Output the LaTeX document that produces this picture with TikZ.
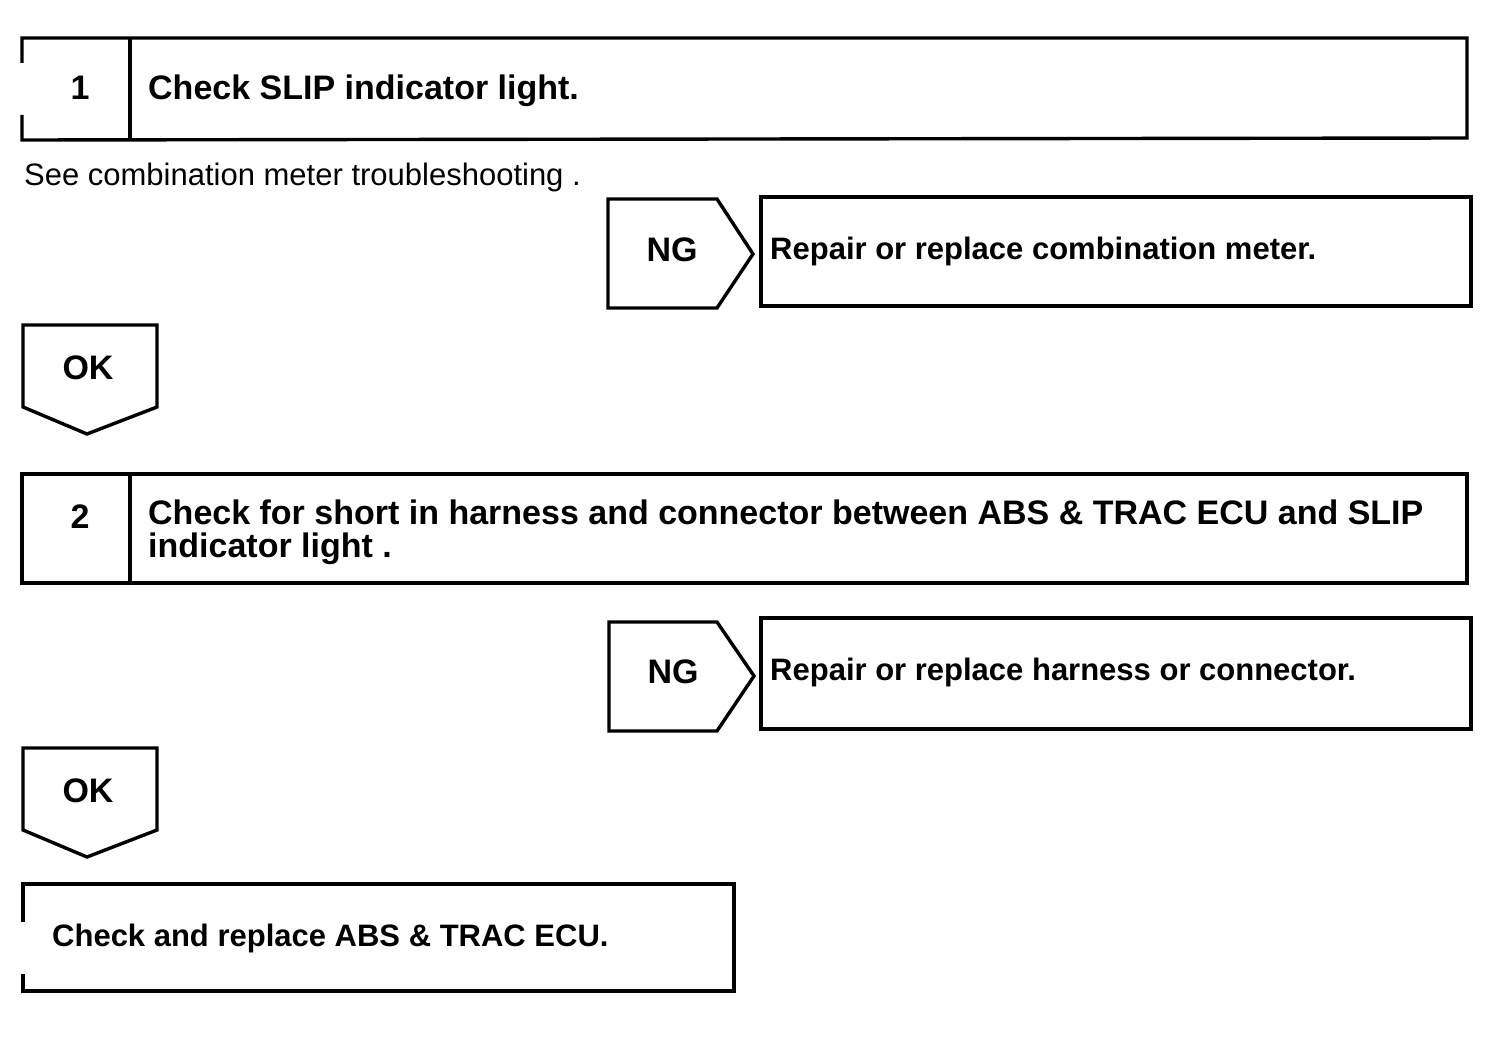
\documentclass[tikz,border=0pt]{standalone}
\usepackage{fontspec}
\setmainfont{Liberation Sans}
\begin{document}
\begin{tikzpicture}[x=1pt,y=-1pt,
  frame/.style={line width=3.4pt,line join=miter},
  bt/.style={font=\fontsize{34}{38}\selectfont\bfseries,inner sep=0pt},
  bs/.style={font=\fontsize{31}{36}\selectfont\bfseries,inner sep=0pt},
  rt/.style={font=\fontsize{31}{34}\selectfont,inner sep=0pt}]
\useasboundingbox (0,0) rectangle (1504,1062);
% Step 1 box
\draw[frame] (22,63) -- (22,38) -- (1467,38) -- (1467,138) -- (22,140) -- (22,115);
\draw[frame] (130,38) -- (130,140);
\node[bt,anchor=base] (n1) at (80,100) {1};
\node[bt,anchor=base west] (t1) at (148,100) {Check SLIP indicator light.};
\node[rt,anchor=base west] (see) at (24,185) {See combination meter troubleshooting .};
% NG 1
\draw[frame] (608,199) -- (717,199) -- (753,254) -- (717,308) -- (608,308) -- cycle;
\node[bt,anchor=base] (ng1) at (672,261) {NG};
\draw[frame] (761,197) rectangle (1471,306);
\node[bs,anchor=base west] (r1) at (770,259) {Repair or replace combination meter.};
% OK 1
\draw[frame] (23,325) -- (157,325) -- (157,407) -- (87,434) -- (23,407) -- cycle;
\node[bt,anchor=base] (ok1) at (88,379) {OK};
% Step 2 box
\draw[frame] (22,474) rectangle (1467,583);
\draw[frame] (130,474) -- (130,583);
\node[bt,anchor=base] (n2) at (80,528) {2};
\node[bt,anchor=base west] (t2a) at (148,524) {Check for short in harness and connector between ABS \& TRAC ECU and SLIP};
\node[bt,anchor=base west] (t2b) at (148,557) {indicator light .};
% NG 2
\draw[frame] (609,622) -- (717,622) -- (754,676) -- (717,731) -- (609,731) -- cycle;
\node[bt,anchor=base] (ng2) at (673,683) {NG};
\draw[frame] (761,618) rectangle (1471,729);
\node[bs,anchor=base west] (r2) at (770,680) {Repair or replace harness or connector.};
% OK 2
\draw[frame] (23,748) -- (157,748) -- (157,830) -- (87,857) -- (23,830) -- cycle;
\node[bt,anchor=base] (ok2) at (88,802) {OK};
% Final box
\draw[frame] (23,922) -- (23,884) -- (734,884) -- (734,991) -- (23,991) -- (23,974);
\node[bs,anchor=base west] (fin) at (52,946) {Check and replace ABS \& TRAC ECU.};
\end{tikzpicture}
\end{document}
